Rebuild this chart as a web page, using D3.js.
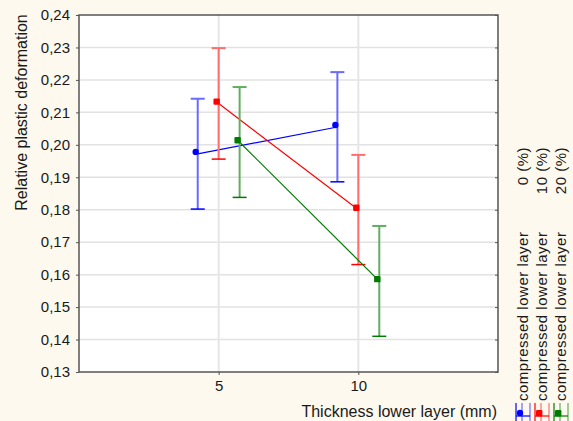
<!DOCTYPE html>
<html>
<head>
<meta charset="utf-8">
<script src="https://cdn.jsdelivr.net/npm/d3@7"></script>
<style>
  html, body { margin: 0; padding: 0; background: #fdf9ee; }
  svg { display: block; }
  text { font-family: "Liberation Sans", Arial, sans-serif; fill: #1a1a1a; }
</style>
</head>
<body>
<div id="chart"></div>
<script>
// values
var thickness = [5, 10];
var seriesNames = ["0 (%)", "10 (%)", "20 (%)"];
var meanBlue = [0.1972, 0.2055];
var meanRed = [0.2127, 0.1800];
var meanGreen = [0.2008, 0.1580];
var errBlue = [0.0170, 0.0169];
var errRed = [0.0171, 0.0169];
var errGreen = [0.0170, 0.0170];
var yTicks = [0.13, 0.14, 0.15, 0.16, 0.17, 0.18, 0.19, 0.20, 0.21, 0.22, 0.23, 0.24];

var series = [
  {name: seriesNames[0], mean: meanBlue, err: errBlue, line: "#0000ff", bar: "#6a6aff", shift: -0.75, shape: "circle"},
  {name: seriesNames[1], mean: meanRed, err: errRed, line: "#ff0000", bar: "#ff6e6e", shift: 0, shape: "square"},
  {name: seriesNames[2], mean: meanGreen, err: errGreen, line: "#007a00", bar: "#62ad62", shift: 0.75, shape: "square"}
];

var width = 573, height = 421;
var pLeft = 79, pTop = 15, pRight = 498, pBottom = 372;

var svg = d3.select("#chart").append("svg").attr("width", width).attr("height", height);
svg.append("rect").attr("width", width).attr("height", height).attr("fill", "#fdf9ee");

var x = d3.scaleLinear().domain([0, 15]).range([pLeft, pRight]);
var y = d3.scaleLinear().domain([0.13, 0.24]).range([pBottom, pTop]);

svg.append("rect").attr("x", pLeft).attr("y", pTop).attr("width", pRight - pLeft).attr("height", pBottom - pTop)
  .attr("fill", "#ffffff");

// grid
svg.append("g").selectAll("line").data(yTicks.slice(1, -1)).enter().append("line")
  .attr("x1", pLeft).attr("x2", pRight).attr("y1", function(d) { return y(d); }).attr("y2", function(d) { return y(d); })
  .attr("stroke", "#e2e2e2").attr("stroke-width", 1.5);
svg.append("g").selectAll("line").data(thickness).enter().append("line")
  .attr("y1", pTop).attr("y2", pBottom).attr("x1", function(d) { return x(d); }).attr("x2", function(d) { return x(d); })
  .attr("stroke", "#e6e6e6").attr("stroke-width", 2);

// axes
var yAxis = d3.axisLeft(y).tickValues(yTicks).tickSize(3).tickPadding(6)
  .tickFormat(function(d) { return d3.format(".2f")(d).replace(".", ","); });
var gy = svg.append("g").attr("transform", "translate(" + pLeft + ",0)").call(yAxis);
gy.select(".domain").remove();
gy.selectAll("line").attr("stroke", "#555");
gy.selectAll("text").attr("font-size", 15).attr("fill", "#1a1a1a").attr("font-family", "Liberation Sans, Arial, sans-serif");

var yAxisR = d3.axisRight(y).tickValues(yTicks).tickSize(-3).tickFormat("");
var gyr = svg.append("g").attr("transform", "translate(" + pRight + ",0)").call(yAxisR);
gyr.select(".domain").remove();
gyr.selectAll("line").attr("stroke", "#555");

var xAxis = d3.axisBottom(x).tickValues(thickness).tickSize(3).tickPadding(5);
var gx = svg.append("g").attr("transform", "translate(0," + pBottom + ")").call(xAxis);
gx.select(".domain").remove();
gx.selectAll("line").attr("stroke", "#555");
gx.selectAll("text").attr("font-size", 15).attr("fill", "#1a1a1a").attr("font-family", "Liberation Sans, Arial, sans-serif");

svg.append("rect").attr("x", pLeft).attr("y", pTop).attr("width", pRight - pLeft).attr("height", pBottom - pTop)
  .attr("fill", "none").attr("stroke", "#555").attr("stroke-width", 1.5);

// titles
svg.append("text").attr("transform", "translate(27," + ((pTop + 210) / 2) + ") rotate(-90)")
  .attr("text-anchor", "middle").attr("font-size", 16).text("Relative plastic deformation");
svg.append("text").attr("x", 497).attr("y", 417).attr("text-anchor", "end").attr("font-size", 16)
  .text("Thickness lower layer (mm)");

// series
series.forEach(function(s) {
  var g = svg.append("g");
  var px = function(i) { return x(thickness[i] + s.shift); };
  g.append("path").datum(thickness).attr("fill", "none").attr("stroke", s.line).attr("stroke-width", 1.2)
    .attr("d", d3.line().x(function(d, i) { return px(i); }).y(function(d, i) { return y(s.mean[i]); }));
  thickness.forEach(function(t, i) {
    var cx = px(i), hi = y(s.mean[i] + s.err[i]), lo = y(s.mean[i] - s.err[i]);
    g.append("line").attr("x1", cx).attr("x2", cx).attr("y1", hi).attr("y2", lo)
      .attr("stroke", s.bar).attr("stroke-width", 2);
    g.append("line").attr("x1", cx - 7).attr("x2", cx + 7).attr("y1", hi).attr("y2", hi)
      .attr("stroke", s.bar).attr("stroke-width", 2);
    g.append("line").attr("x1", cx - 7).attr("x2", cx + 7).attr("y1", lo).attr("y2", lo)
      .attr("stroke", s.line).attr("stroke-width", 1.5);
    var my = y(s.mean[i]) - 2, mx = cx - 2;
    if (s.shape === "circle") {
      g.append("circle").attr("cx", mx).attr("cy", my).attr("r", 3.2).attr("fill", s.line);
    } else {
      g.append("rect").attr("x", mx - 3.2).attr("y", my - 3.2).attr("width", 6.4).attr("height", 6.4)
        .attr("rx", 1.2).attr("fill", s.line);
    }
  });
});

// legend
var legX = [528, 547, 566];
series.forEach(function(s, i) {
  var bx = legX[i];
  svg.append("text").attr("transform", "translate(" + bx + ",401) rotate(-90)").attr("font-size", 15)
    .attr("letter-spacing", 0.5).text("compressed lower layer");
  svg.append("text").attr("transform", "translate(" + bx + ",147) rotate(-90)").attr("font-size", 15)
    .attr("text-anchor", "end").attr("letter-spacing", 0.5).text(s.name);
  var sx = bx - 12;
  var sg = svg.append("g");
  sg.append("line").attr("x1", sx).attr("x2", sx).attr("y1", 403).attr("y2", 421).attr("stroke", s.line).attr("stroke-width", 1.2);
  sg.append("line").attr("x1", sx + 6).attr("x2", sx + 6).attr("y1", 403).attr("y2", 421).attr("stroke", s.bar).attr("stroke-width", 1.2);
  sg.append("line").attr("x1", sx + 14).attr("x2", sx + 14).attr("y1", 403).attr("y2", 421).attr("stroke", s.bar).attr("stroke-width", 1.2);
  sg.append("line").attr("x1", sx).attr("x2", sx + 14).attr("y1", 416).attr("y2", 416).attr("stroke", s.line).attr("stroke-width", 1.2);
  if (s.shape === "circle") {
    sg.append("circle").attr("cx", sx + 4).attr("cy", 413).attr("r", 3.2).attr("fill", s.line);
  } else {
    sg.append("rect").attr("x", sx + 1).attr("y", 410).attr("width", 6.4).attr("height", 6.4).attr("rx", 1.2).attr("fill", s.line);
  }
});
</script>
</body>
</html>
